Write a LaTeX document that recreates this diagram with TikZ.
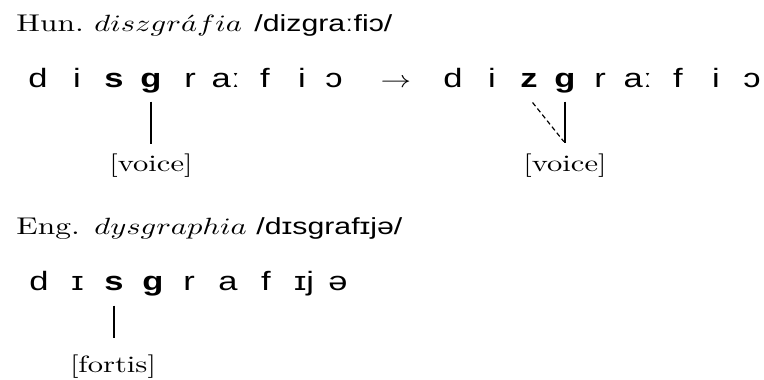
\documentclass[tikz,border=0pt]{standalone}
\usepackage{fontspec}
\usetikzlibrary{calc}
\newfontfamily\ipa{Liberation Sans}
% all lettering is set a little wider than its natural width
\newcommand\hs[1]{\scalebox{1.3}[1]{#1}}

\begin{document}
\begin{tikzpicture}[x=0.42553pt, y=-0.42553pt,
  seg/.style={inner sep=0pt, anchor=base, text depth=6pt,
    font=\fontsize{11.3}{13}\ipa},
  head/.style={inner sep=0pt, anchor=base west, font=\fontsize{10.3}{12}\selectfont},
  trans/.style={inner sep=0pt, anchor=base west, font=\fontsize{9.9}{11}\ipa},
  feat/.style={inner sep=0pt, anchor=base, text height=7.5pt, text depth=2.5pt,
    font=\fontsize{10}{12}\selectfont},
  assoc/.style={line width=0.5pt},
  spread/.style={line width=0.5pt, dash pattern=on 2pt off 1.3pt}]
\useasboundingbox (0,0) rectangle (764,380);

% ---- Hungarian ----
\node[head]  (hun)  at (16,31)  {\hs{Hun.}};
\node[head]  (hunw) at (94,31)  {\hs{$diszgr\acute{a}fia$}};
\node[trans] (hunt) at (254,31) {\hs{/dizgraːfiɔ/}};

\node[seg] (a1) at (38,87)  {\hs{d}};
\node[seg] (a2) at (77,87)  {\hs{i}};
\node[seg] (a3) at (114,87) {\hs{\bfseries s}};
\node[seg] (a4) at (151,87) {\hs{\bfseries g}};
\node[seg] (a5) at (190,87) {\hs{r}};
\node[seg] (a6) at (226,87) {\hs{aː}};
\node[seg] (a7) at (265,87) {\hs{f}};
\node[seg] (a8) at (302,87) {\hs{i}};
\node[seg] (a9) at (334,87) {\hs{ɔ}};

\node[seg, font=\fontsize{10}{12}\selectfont] (arr) at (396,87) {\hs{$\rightarrow$}};

\node[seg] (b1) at (453,87) {\hs{d}};
\node[seg] (b2) at (492,87) {\hs{i}};
\node[seg] (b3) at (529,87) {\hs{\bfseries z}};
\node[seg] (b4) at (565,87) {\hs{\bfseries g}};
\node[seg] (b5) at (600,87) {\hs{r}};
\node[seg] (b6) at (638,87) {\hs{aː}};
\node[seg] (b7) at (678,87) {\hs{f}};
\node[seg] (b8) at (716,87) {\hs{i}};
\node[seg] (b9) at (752,87) {\hs{ɔ}};

\node[feat] (v1) at (151,171) {\hs{[voice]}};
\node[feat] (v2) at (565,171) {\hs{[voice]}};

\draw[assoc, shorten >=3.6pt] (a4.south) -- (a4.south |- v1.north);

\coordinate (j) at ($(b4.south |- v2.north)+(0,4.2pt)$);
\draw[assoc] (b4.south) -- (j);
\draw[spread, shorten <=0.5pt, shorten >=0.8pt] ($(b3.south)+(1.2pt,0)$) -- (j);

% ---- English ----
\node[head]  (eng)  at (16,234)  {\hs{Eng.}};
\node[head]  (engw) at (94,234)  {\hs{$dysgraphia$}};
\node[trans] (engt) at (256,234) {\hs{/dɪsgrafɪjə/}};

\node[seg] (c1) at (39,291)  {\hs{d}};
\node[seg] (c2) at (77.5,291) {\hs{ɪ}};
\node[seg] (c3) at (114,291) {\hs{\bfseries s}};
\node[seg] (c4) at (153,291) {\hs{\bfseries g}};
\node[seg] (c5) at (189,291) {\hs{r}};
\node[seg] (c6) at (228,291) {\hs{a}};
\node[seg] (c7) at (266,291) {\hs{f}};
\node[seg] (c8) at (304,291) {\hs{ɪj}};
\node[seg] (c9) at (338,291) {\hs{ə}};

\node[feat] (fo) at (113,373) {\hs{[fortis]}};

\draw[assoc, shorten >=7.4pt] (c3.south) -- (c3.south |- fo.north);
\end{tikzpicture}
\end{document}
